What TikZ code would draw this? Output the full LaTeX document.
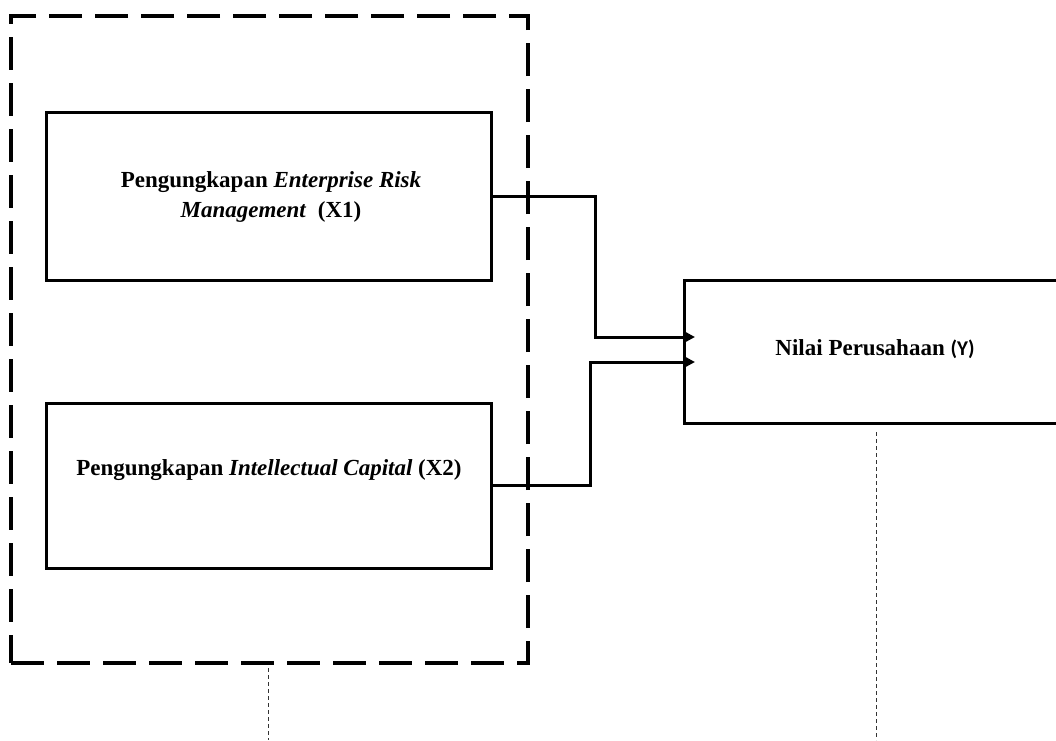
\documentclass[tikz,border=0pt]{standalone}
\usepackage{fontspec}
\setmainfont{Liberation Serif}
\newfontfamily\yfont{Carlito}
\usetikzlibrary{arrows.meta}
\begin{document}
\begin{tikzpicture}[x=1pt,y=-1pt,
  box/.style={draw, line width=3pt, rectangle, inner sep=0pt, outer sep=0pt},
  groupbox/.style={draw, line width=4pt, rectangle, inner sep=0pt, outer sep=0pt, dash pattern=on 33pt off 13pt},
  lbl/.style={font=\fontsize{23}{30}\selectfont\bfseries, align=center, inner sep=0pt},
  conn/.style={line width=3pt, -{Triangle[length=11pt,width=11pt]}, shorten >=-11pt},
  dotline/.style={line width=1pt, black!80, dash pattern=on 4pt off 3pt}]
\useasboundingbox (0,0) rectangle (1056,740);
\node[groupbox, minimum width=517pt, minimum height=647pt] (group) at (269.5,339.5) {};
\node[box, minimum width=445pt, minimum height=168pt] (x1) at (268.5,196) {};
\node[box, minimum width=445pt, minimum height=165pt] (x2) at (268.5,485.5) {};
\node[box, minimum width=416pt, minimum height=143pt] (y) at (892,351.5) {};
\node[lbl] (x1l) at (271,197) {Pengungkapan \textit{Enterprise Risk}\\\textit{Management}\ \ (X1)};
\node[lbl] (x2l) at (269,470) {Pengungkapan \textit{Intellectual Capital} (X2)};
\node[lbl] (yl) at (875,349) {Nilai Perusahaan {\yfont\fontsize{21}{25}\selectfont(Y)}};
\draw[conn] (x1.east) -- ++(104,0) |- ([yshift=14.5pt]y.west);
\draw[conn] (x2.east) -- ++(99,0) |- ([yshift=-10.5pt]y.west);
\coordinate (gend) at (268,740);
\coordinate (ystart) at (876,432);
\coordinate (yend) at (876,740);
\draw[dotline] ([xshift=-1.5pt,yshift=-5pt]group.south) -- (gend);
\draw[dotline] (ystart) -- (yend);
\end{tikzpicture}
\end{document}
